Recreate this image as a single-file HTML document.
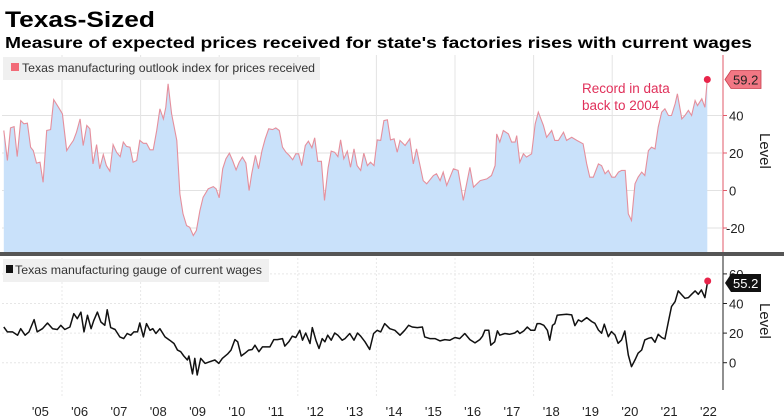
<!DOCTYPE html>
<html><head><meta charset="utf-8"><style>
html,body{margin:0;padding:0;background:#fff;}
svg{display:block;font-family:"Liberation Sans",Arial,sans-serif;}
</style></head><body>
<svg id="chart" width="784" height="420" viewBox="0 0 784 420" xmlns="http://www.w3.org/2000/svg">
<text x="5" y="27" font-size="22" font-weight="bold" fill="#000" textLength="150" lengthAdjust="spacingAndGlyphs">Texas-Sized</text>
<text x="5" y="48" font-size="15.5" font-weight="bold" fill="#000" textLength="747" lengthAdjust="spacingAndGlyphs">Measure of expected prices received for state's factories rises with current wages</text>
<g id="topPanel"></g>
<g id="botPanel"></g>
<g id="xAxis"></g>
</svg>
<script>
const yearLabels=["'05","'06","'07","'08","'09","'10","'11","'12","'13","'14","'15","'16","'17","'18","'19","'20","'21","'22"];
const topTicks=[40,20,0,-20];
const botTicks=[60,40,20,0];
const priceDates=[2004.52,2004.61,2004.69,2004.78,2004.86,2004.95,2005.03,2005.12,2005.20,2005.27,2005.35,2005.44,2005.52,2005.61,2005.71,2005.79,2005.91,2006.01,2006.12,2006.20,2006.29,2006.37,2006.46,2006.54,2006.63,2006.71,2006.79,2006.88,2006.96,2007.05,2007.13,2007.22,2007.30,2007.39,2007.48,2007.56,2007.64,2007.73,2007.81,2007.90,2007.98,2008.07,2008.15,2008.24,2008.32,2008.41,2008.49,2008.58,2008.64,2008.70,2008.79,2008.92,2009.00,2009.08,2009.17,2009.25,2009.34,2009.42,2009.51,2009.59,2009.72,2009.85,2009.92,2010.00,2010.09,2010.17,2010.26,2010.34,2010.43,2010.51,2010.59,2010.68,2010.76,2010.83,2010.92,2011.00,2011.09,2011.17,2011.26,2011.36,2011.44,2011.53,2011.61,2011.70,2011.78,2011.87,2011.95,2012.02,2012.10,2012.19,2012.27,2012.36,2012.43,2012.51,2012.60,2012.68,2012.77,2012.85,2012.94,2013.02,2013.09,2013.17,2013.26,2013.34,2013.43,2013.51,2013.60,2013.68,2013.77,2013.85,2013.94,2014.02,2014.11,2014.19,2014.28,2014.36,2014.45,2014.53,2014.60,2014.73,2014.85,2014.94,2015.02,2015.19,2015.28,2015.45,2015.53,2015.62,2015.70,2015.79,2015.96,2016.08,2016.21,2016.38,2016.47,2016.64,2016.81,2016.93,2017.02,2017.06,2017.14,2017.23,2017.36,2017.44,2017.53,2017.57,2017.65,2017.74,2017.82,2017.95,2018.04,2018.12,2018.25,2018.33,2018.46,2018.54,2018.63,2018.76,2018.84,2018.97,2019.10,2019.26,2019.35,2019.43,2019.52,2019.65,2019.73,2019.82,2019.90,2019.99,2020.07,2020.16,2020.24,2020.33,2020.41,2020.49,2020.58,2020.66,2020.75,2020.83,2020.92,2021.00,2021.09,2021.17,2021.26,2021.34,2021.43,2021.51,2021.60,2021.66,2021.77,2021.85,2021.94,2022.02,2022.11,2022.17,2022.28,2022.36,2022.42];
const priceValues=[32.0,16.0,33.4,34.1,18.1,37.3,35.6,35.9,23.1,21.3,14.6,15.1,4.4,32.0,32.5,48.5,44.4,40.9,21.3,24.0,26.7,31.1,38.2,24.0,34.7,32.9,14.2,24.5,11.6,19.2,13.3,10.3,24.5,20.4,18.1,25.8,23.5,23.1,15.1,16.0,26.7,25.2,25.2,21.7,21.7,32.0,43.6,38.2,44.4,56.9,40.9,26.7,-1.8,-12.4,-18.7,-19.6,-24.0,-21.3,-10.7,-3.6,0.9,2.1,0.9,-3.9,11.6,16.9,19.9,16.0,11.0,15.1,17.8,14.6,0.0,9.2,18.7,11.6,21.3,27.6,32.9,32.5,33.4,32.0,23.1,20.4,18.7,16.4,19.6,19.6,13.3,24.0,26.3,22.8,28.1,15.6,15.6,-5.3,12.1,21.0,20.4,18.1,27.0,16.9,21.0,12.4,22.2,13.3,10.7,19.9,13.3,15.1,13.3,27.0,26.7,37.3,37.7,27.0,27.6,20.4,26.7,24.0,27.6,14.2,22.2,5.3,3.6,8.0,8.9,5.3,9.8,2.7,11.6,10.7,-5.3,12.4,1.8,5.3,6.2,8.0,13.3,30.2,25.8,32.0,30.2,25.8,25.8,29.3,15.1,19.6,17.8,19.6,35.6,41.8,34.7,28.4,32.0,26.7,26.7,31.1,26.7,28.4,26.7,24.9,14.2,7.1,7.1,14.2,13.3,8.9,10.7,7.1,7.1,9.8,10.7,10.7,-12.4,-16.0,3.6,7.1,9.8,8.0,21.3,23.1,22.2,33.8,41.8,43.6,40.0,40.0,46.2,51.6,38.2,40.0,42.7,40.0,48.0,45.3,48.9,44.4,59.2];
const wageDates=[2004.52,2004.61,2004.74,2004.87,2004.95,2005.06,2005.16,2005.29,2005.37,2005.50,2005.63,2005.76,2005.88,2005.97,2006.07,2006.20,2006.30,2006.39,2006.48,2006.56,2006.65,2006.74,2006.81,2006.90,2006.99,2007.09,2007.15,2007.24,2007.35,2007.47,2007.57,2007.66,2007.75,2007.83,2007.92,2007.98,2008.07,2008.15,2008.24,2008.31,2008.39,2008.49,2008.62,2008.74,2008.85,2008.94,2009.02,2009.10,2009.19,2009.23,2009.32,2009.38,2009.44,2009.53,2009.64,2009.76,2009.89,2009.99,2010.08,2010.21,2010.30,2010.40,2010.47,2010.56,2010.65,2010.75,2010.84,2010.91,2011.01,2011.10,2011.19,2011.29,2011.39,2011.48,2011.61,2011.67,2011.77,2011.86,2011.95,2012.05,2012.12,2012.20,2012.31,2012.37,2012.46,2012.54,2012.62,2012.69,2012.76,2012.85,2012.94,2013.02,2013.13,2013.20,2013.32,2013.43,2013.52,2013.60,2013.71,2013.83,2013.93,2014.02,2014.11,2014.21,2014.34,2014.47,2014.60,2014.72,2014.82,2014.91,2015.04,2015.17,2015.23,2015.36,2015.49,2015.62,2015.74,2015.87,2016.00,2016.12,2016.25,2016.38,2016.51,2016.63,2016.70,2016.76,2016.86,2016.91,2017.01,2017.08,2017.14,2017.27,2017.39,2017.52,2017.59,2017.65,2017.75,2017.84,2017.93,2018.03,2018.09,2018.16,2018.26,2018.35,2018.41,2018.48,2018.54,2018.60,2018.67,2018.84,2018.97,2019.05,2019.14,2019.22,2019.35,2019.48,2019.56,2019.65,2019.73,2019.80,2019.90,2019.98,2020.07,2020.15,2020.24,2020.32,2020.41,2020.49,2020.58,2020.66,2020.75,2020.83,2020.92,2021.00,2021.09,2021.17,2021.26,2021.34,2021.43,2021.51,2021.60,2021.68,2021.77,2021.85,2021.94,2022.02,2022.11,2022.19,2022.27,2022.36,2022.43];
const wageValues=[24.1,20.8,20.8,18.6,23.0,18.6,20.8,29.1,20.8,23.0,26.8,23.0,22.4,25.3,22.4,24.1,33.1,29.7,34.2,20.8,32.0,23.0,28.6,34.2,27.5,25.3,35.8,23.7,22.4,17.4,16.3,19.7,18.6,20.8,20.8,26.8,17.4,26.4,21.9,23.0,19.7,23.0,17.4,15.2,13.0,8.5,7.4,4.5,1.8,4.5,-7.6,2.9,-8.3,2.9,-0.5,0.7,1.8,-0.5,2.9,5.8,8.5,15.6,14.1,4.5,6.3,8.5,8.9,11.8,7.4,10.7,10.7,10.7,15.6,15.6,16.3,11.2,14.1,17.9,17.0,21.9,15.2,20.1,13.0,23.7,15.2,9.6,16.3,14.1,18.6,15.2,20.1,18.6,15.2,16.3,19.7,15.2,20.1,17.9,14.1,8.9,19.7,21.9,20.8,26.4,23.0,21.9,18.6,21.9,25.3,24.1,23.7,24.1,17.4,16.3,16.3,14.7,15.6,15.2,17.0,16.3,19.7,15.6,13.4,15.6,17.9,21.9,21.9,11.8,14.1,21.5,18.6,19.7,19.2,20.1,21.5,19.7,21.5,24.1,21.9,21.9,26.4,26.4,25.3,21.9,15.2,25.3,26.4,32.0,32.3,32.7,32.3,25.1,28.9,27.8,30.5,27.8,26.6,22.1,19.9,26.0,17.6,21.0,18.7,13.1,15.4,21.4,5.2,-2.7,1.9,6.4,8.6,15.4,16.5,17.0,13.8,19.2,17.0,16.0,27.8,37.9,41.3,48.5,45.8,43.5,44.0,46.2,48.5,46.2,49.2,44.0,55.2];

const NS="http://www.w3.org/2000/svg";
function xOf(d){return 62+(d-2006)*39.3;}
function yTop(v){return 190.5-v*1.875;}
function yBot(v){return 362.7-v*1.48;}
function mk(tag,attrs,parent){const e=document.createElementNS(NS,tag);for(const k in attrs)e.setAttribute(k,attrs[k]);parent.appendChild(e);return e;}
const topG=document.getElementById('topPanel'),botG=document.getElementById('botPanel'),xAxG=document.getElementById('xAxis');
const L=2,R=722;
for(const t of topTicks){
  const g=mk('line',{x1:L,x2:R,y1:yTop(t),y2:yTop(t),stroke:'#e2e2e2','stroke-width':1},topG);
  
  
}
for(const t of botTicks){
  const g=mk('line',{x1:L,x2:R,y1:yBot(t),y2:yBot(t),stroke:'#e6e6e6','stroke-width':1,'stroke-dasharray':'2,2'},botG);
  
  
}
yearLabels.forEach((lab,i)=>{
  const yr=2005+i;
  if(yr%2===0&&yr<2022){
    const x=xOf(yr);
    const a=mk('line',{x1:x,x2:x,y1:55,y2:252,stroke:'#e4e4e4','stroke-width':1},topG);
    
    
    const b=mk('line',{x1:x,x2:x,y1:258,y2:398,stroke:'#e8e8e8','stroke-width':1,'stroke-dasharray':'2,2'},botG);
    
    
  }
  const t=mk('text',{x:xOf(yr+0.5)-2,y:416,'font-size':13,'text-anchor':'middle',fill:'#222'},xAxG);
  t.textContent=lab;
  
  
});
let pts=priceDates.map((d,i)=>xOf(d).toFixed(1)+','+yTop(priceValues[i]).toFixed(1));
const area=mk('polygon',{points:xOf(priceDates[0]).toFixed(1)+',253 '+pts.join(' ')+' '+xOf(priceDates[priceDates.length-1]).toFixed(1)+',253',fill:'#c9e1fa',stroke:'none'},topG);


const pl=mk('polyline',{points:pts.join(' '),fill:'none',stroke:'#e58f9c','stroke-width':1.1},topG);


const lb=mk('rect',{x:3,y:57,width:317,height:23,fill:'#f0f0f0'},topG);


const ls=mk('rect',{x:11,y:63,width:8,height:8,fill:'#f26b78'},topG);


const lt=mk('text',{x:22,y:72,'font-size':12,fill:'#333',textLength:293,lengthAdjust:'spacingAndGlyphs'},topG);
lt.textContent='Texas manufacturing outlook index for prices received';


const ta=mk('line',{x1:723,x2:723,y1:55,y2:253,stroke:'#e05a6a','stroke-width':1},topG);


for(const t of topTicks){
  const k=mk('line',{x1:723,x2:727,y1:yTop(t),y2:yTop(t),stroke:'#e05a6a'},topG);
  
  
  const tx=mk('text',{x:t<0?726:729,y:yTop(t)+5,'font-size':13,fill:'#222'},topG);
  tx.textContent=t<0?'-'+Math.abs(t):String(t);
  
  
}
const lv1=mk('text',{x:0,y:0,'font-size':15,fill:'#222',transform:'translate(760,133) rotate(90)'},topG);
lv1.textContent='Level';


const lastP=priceValues[priceValues.length-1],lastPD=priceDates[priceDates.length-1];
const dot1=mk('circle',{cx:xOf(lastPD),cy:yTop(lastP),r:3.5,fill:'#e8244a'},topG);


const yl=yTop(lastP);
const tag1=mk('path',{d:`M725 ${yl} L731 ${yl-9} L761 ${yl-9} L761 ${yl+9} L731 ${yl+9} Z`,fill:'#f27784',stroke:'#c8404e','stroke-width':0.8},topG);


const tv1=mk('text',{x:733,y:yl+5,'font-size':13,fill:'#222'},topG);
tv1.textContent=lastP.toFixed(1);


const an1=mk('text',{x:582,y:93,'font-size':13.5,fill:'#e0305a'},topG);
an1.textContent='Record in data';


const an2=mk('text',{x:582,y:110,'font-size':13.5,fill:'#e0305a'},topG);
an2.textContent='back to 2004';


const dv=mk('rect',{x:0,y:252,width:784,height:4,fill:'#555'},topG);


const bl=mk('rect',{x:3,y:259,width:266,height:23,fill:'#f0f0f0'},botG);


const bs=mk('rect',{x:6,y:265,width:7,height:8,fill:'#111'},botG);


const bt=mk('text',{x:15,y:274,'font-size':12,fill:'#333',textLength:247,lengthAdjust:'spacingAndGlyphs'},botG);
bt.textContent='Texas manufacturing gauge of current wages';


const wl=mk('polyline',{points:wageDates.map((d,i)=>xOf(d).toFixed(1)+','+yBot(wageValues[i]).toFixed(1)).join(' '),fill:'none',stroke:'#111','stroke-width':1.5,'stroke-linejoin':'round'},botG);


const ba=mk('line',{x1:723,x2:723,y1:256,y2:390,stroke:'#222','stroke-width':1},botG);


for(const t of botTicks){
  const k=mk('line',{x1:723,x2:727,y1:yBot(t),y2:yBot(t),stroke:'#222'},botG);
  
  
  const tx=mk('text',{x:729,y:yBot(t)+5,'font-size':13,fill:'#222'},botG);
  tx.textContent=String(t);
  
  
}
const lv2=mk('text',{x:0,y:0,'font-size':15,fill:'#222',transform:'translate(760,303) rotate(90)'},botG);
lv2.textContent='Level';


const lastW=wageValues[wageValues.length-1],lastWD=wageDates[wageDates.length-1];
const dot2=mk('circle',{cx:xOf(lastWD),cy:yBot(lastW),r:3.5,fill:'#e8244a'},botG);


const y2=yBot(lastW)+2;
const tag2=mk('path',{d:`M725 ${y2} L731 ${y2-9} L761 ${y2-9} L761 ${y2+9} L731 ${y2+9} Z`,fill:'#111'},botG);


const tv2=mk('text',{x:733,y:y2+5,'font-size':13,fill:'#fff'},botG);
tv2.textContent=lastW.toFixed(1);


</script>
</body></html>
